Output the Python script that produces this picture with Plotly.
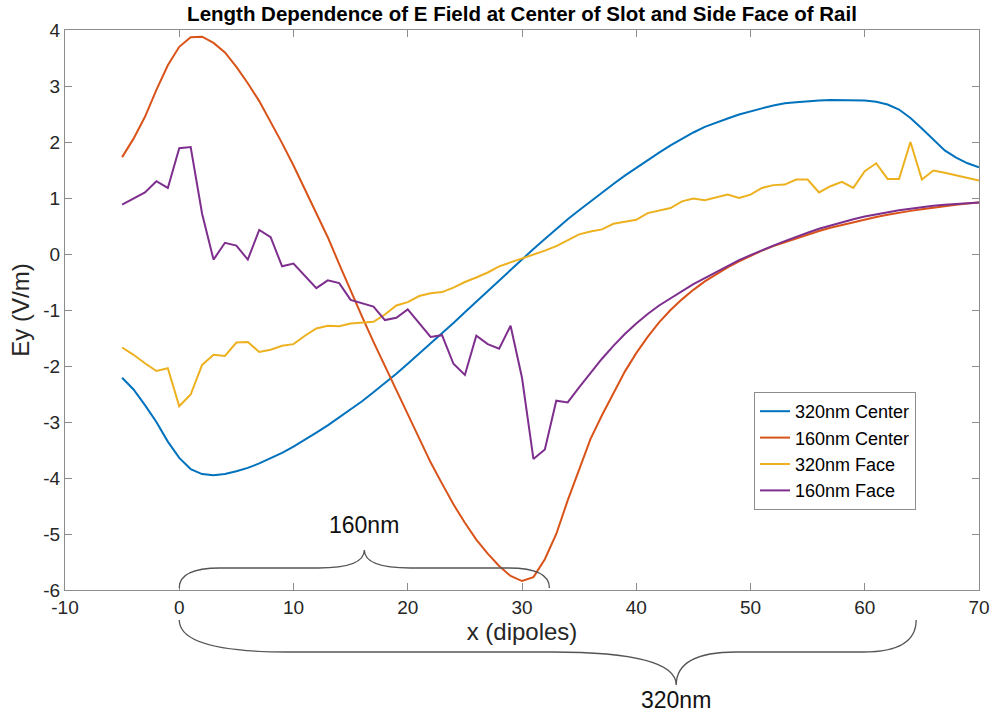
import plotly.graph_objects as go

x = list(range(-5, 71))

center_320 = [-2.21, -2.42, -2.70, -3.00, -3.35, -3.64, -3.84, -3.93, -3.95, -3.93,
              -3.88, -3.82, -3.74, -3.65, -3.55, -3.44, -3.32, -3.19, -3.06, -2.92,
              -2.78, -2.63, -2.47, -2.31, -2.14, -1.96, -1.78, -1.60, -1.42, -1.23,
              -1.04, -0.85, -0.66, -0.47, -0.28, -0.09, 0.09, 0.27, 0.45, 0.62,
              0.78, 0.94, 1.10, 1.25, 1.40, 1.54, 1.68, 1.81, 1.94, 2.06,
              2.17, 2.27, 2.35, 2.42, 2.49, 2.55, 2.60, 2.65, 2.69, 2.71,
              2.73, 2.74, 2.75, 2.75, 2.75, 2.74, 2.72, 2.67, 2.58, 2.43,
              2.24, 2.04, 1.85, 1.72, 1.62, 1.55]

center_160 = [1.73, 2.06, 2.45, 2.93, 3.37, 3.70, 3.87, 3.88, 3.77, 3.60,
              3.34, 3.05, 2.73, 2.36, 1.98, 1.58, 1.16, 0.72, 0.30, -0.18,
              -0.66, -1.12, -1.57, -2.00, -2.42, -2.87, -3.30, -3.72, -4.10, -4.47,
              -4.80, -5.10, -5.35, -5.57, -5.75, -5.84, -5.77, -5.45, -5.00, -4.40,
              -3.85, -3.30, -2.88, -2.48, -2.10, -1.77, -1.48, -1.22, -1.00, -0.81,
              -0.64, -0.49, -0.36, -0.24, -0.13, -0.03, 0.06, 0.14, 0.21, 0.28,
              0.35, 0.41, 0.47, 0.52, 0.57, 0.62, 0.66, 0.70, 0.74, 0.77,
              0.80, 0.83, 0.86, 0.88, 0.90, 0.92]

face_320 = [-1.67, -1.80, -1.95, -2.09, -2.04, -2.72, -2.51, -1.98, -1.80, -1.82,
            -1.58, -1.57, -1.75, -1.71, -1.64, -1.61, -1.46, -1.33, -1.28, -1.29,
            -1.24, -1.22, -1.21, -1.08, -0.92, -0.86, -0.75, -0.70, -0.68, -0.60,
            -0.50, -0.42, -0.33, -0.22, -0.15, -0.09, -0.02, 0.06, 0.14, 0.25,
            0.35, 0.40, 0.44, 0.54, 0.57, 0.61, 0.73, 0.78, 0.82, 0.94,
            0.99, 0.96, 1.01, 1.06, 1.00, 1.06, 1.18, 1.23, 1.24, 1.33,
            1.33, 1.10, 1.21, 1.29, 1.18, 1.48, 1.62, 1.34, 1.34, 2.00,
            1.33, 1.49, 1.45, 1.40, 1.36, 1.31]

face_160 = [0.88, 0.99, 1.10, 1.30, 1.18, 1.89, 1.91, 0.72, -0.10, 0.20,
            0.15, -0.10, 0.43, 0.30, -0.22, -0.17, -0.39, -0.61, -0.47, -0.52,
            -0.82, -0.88, -0.94, -1.18, -1.14, -0.99, -1.23, -1.48, -1.45, -1.96,
            -2.16, -1.46, -1.61, -1.69, -1.28, -2.21, -3.66, -3.49, -2.62, -2.65,
            -2.38, -2.12, -1.87, -1.64, -1.43, -1.24, -1.07, -0.92, -0.79, -0.66,
            -0.54, -0.43, -0.32, -0.21, -0.11, -0.02, 0.07, 0.15, 0.23, 0.31,
            0.38, 0.45, 0.51, 0.57, 0.62, 0.67, 0.71, 0.75, 0.78, 0.81,
            0.84, 0.86, 0.88, 0.895, 0.91, 0.92]

series_names = ["320nm Center", "160nm Center", "320nm Face", "160nm Face"]
series_colors = ["#0072BD", "#D95319", "#EDB120", "#7E2F8E"]

x_ticks = [-10, 0, 10, 20, 30, 40, 50, 60, 70]
y_ticks = [-6, -5, -4, -3, -2, -1, 0, 1, 2, 3, 4]

# brace annotations (data x positions: start, end, tip)
brace_small = (0, 32.4, 16.2)
brace_big = (0, 64.5, 43.5)

XMIN, XMAX = -10, 70
W, H = 994, 719
ML, MR, MT, MB = 65, 15, 30, 129
PW = W - ML - MR
PH = H - MT - MB

fig = go.Figure()
for name, ys, col in zip(series_names, [center_320, center_160, face_320, face_160], series_colors):
    fig.add_trace(go.Scatter(x=x, y=ys, mode="lines", name=name,
                             line=dict(color=col, width=2)))


def px_x(v):
    return (v - XMIN) / (XMAX - XMIN)


def py_paper(pix):
    return (MT + PH - pix) / PH


def brace(x0, x1, xt, y_end, y_mid, y_tip):
    a = px_x(x0); b = px_x(x1); t = px_x(xt)
    ye = py_paper(y_end); ym = py_paper(y_mid); yt = py_paper(y_tip)
    la = a + 0.22 * (t - a)
    lb = t - 0.25 * (t - a)
    ra = t + 0.25 * (b - t)
    rb = b - 0.22 * (b - t)
    p = (f"M {a},{ye} Q {a},{ym} {la},{ym} "
         f"L {lb},{ym} Q {t},{ym} {t},{yt} "
         f"Q {t},{ym} {ra},{ym} "
         f"L {rb},{ym} Q {b},{ym} {b},{ye}")
    return p


shapes = [
    dict(type="path", xref="paper", yref="paper",
         path=brace(brace_small[0], brace_small[1], brace_small[2], 588, 568, 550),
         line=dict(color="#555555", width=1.3)),
    dict(type="path", xref="paper", yref="paper",
         path=brace(brace_big[0], brace_big[1], brace_big[2], 620, 652, 685),
         line=dict(color="#555555", width=1.3)),
]

annotations = [
    dict(text="160nm", x=px_x(brace_small[2]), y=py_paper(525), xref="paper", yref="paper",
         xanchor="center", yanchor="middle",
         showarrow=False, font=dict(size=23, color="#111111", family="Liberation Sans")),
    dict(text="320nm", x=px_x(brace_big[2]), y=py_paper(700), xref="paper", yref="paper",
         xanchor="center", yanchor="middle",
         showarrow=False, font=dict(size=23, color="#111111", family="Liberation Sans")),
]

axis_common = dict(showgrid=False, zeroline=False, showline=True, linecolor="#8c8c8c", linewidth=1,
                   mirror="ticks", ticks="inside", ticklen=7, tickcolor="#8c8c8c",
                   tickfont=dict(size=19, color="#262626"), automargin=False)

fig.update_layout(
    width=W, height=H,
    margin=dict(l=ML, r=MR, t=MT, b=MB),
    paper_bgcolor="white", plot_bgcolor="white",
    font=dict(family="Liberation Sans", color="#262626"),
    title=dict(text="<b>Length Dependence of E Field at Center of Slot and Side Face of Rail</b>",
               x=(ML + PW / 2) / W, xanchor="center", y=1 - 14 / H, yanchor="middle",
               font=dict(family="Liberation Sans Narrow, Liberation Sans", size=20.5, color="#000000")),
    xaxis=dict(range=[XMIN, XMAX], tickvals=x_ticks, ticktext=[str(v) for v in x_ticks],
               title=dict(text="x (dipoles)", font=dict(size=24, color="#262626"), standoff=4),
               **axis_common),
    yaxis=dict(range=[-6, 4], tickvals=y_ticks, ticktext=[str(v) for v in y_ticks],
               title=dict(text="Ey (V/m)", font=dict(size=24, color="#262626"), standoff=6),
               **axis_common),
    legend=dict(x=(754 - ML) / PW, y=py_paper(392), xanchor="left", yanchor="top",
                bgcolor="white", bordercolor="#8c8c8c", borderwidth=1,
                font=dict(size=18, color="#000000"), itemwidth=30, tracegroupgap=0),
    shapes=shapes,
    annotations=annotations,
)

fig.write_html("out.html")
